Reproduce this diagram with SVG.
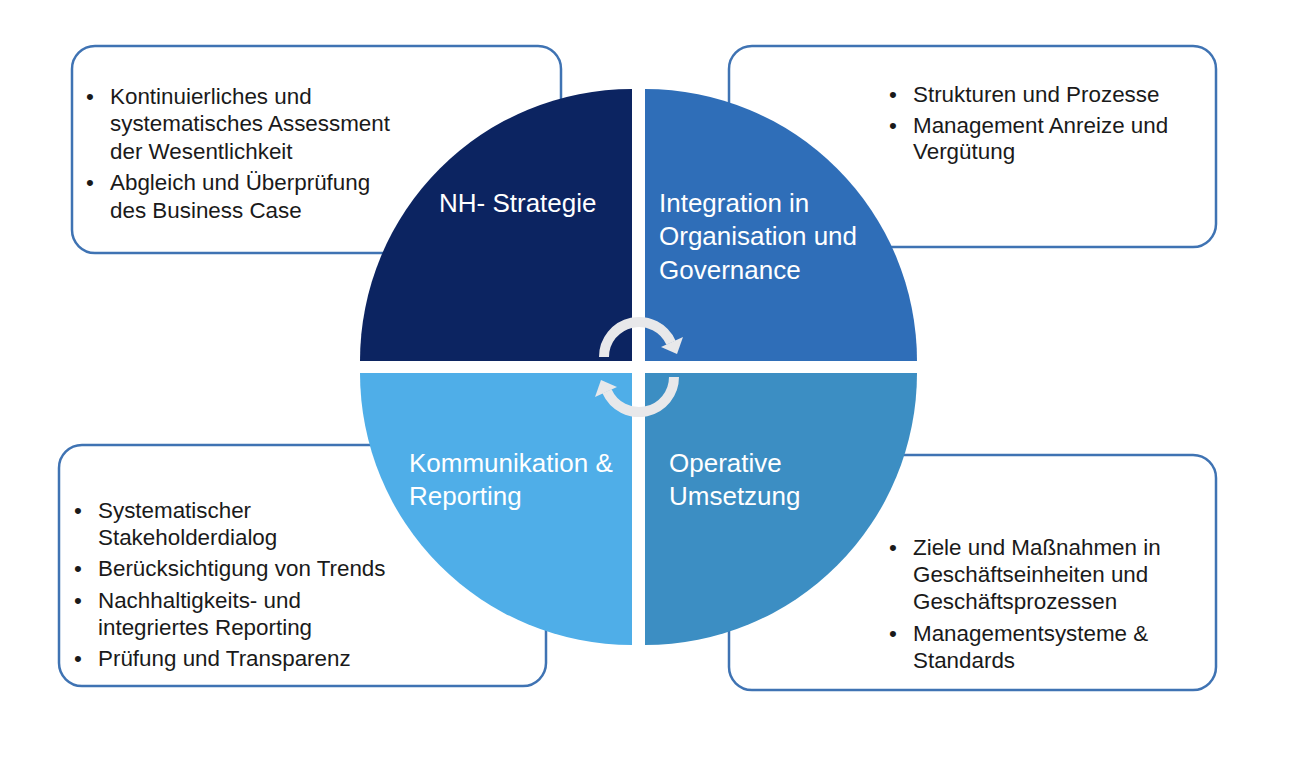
<svg xmlns="http://www.w3.org/2000/svg" width="1290" height="760" viewBox="0 0 1290 760">
  <style>
    .box { fill: #ffffff; stroke: #3f73b3; stroke-width: 2.5; }
    .bt { font-family: "Liberation Sans", Arial, sans-serif; font-size: 22.4px; fill: #1a1a1a; }
    .ql { font-family: "Liberation Sans", Arial, sans-serif; font-size: 26px; fill: #ffffff; }
    .cyc { fill: none; stroke: #e8e8ea; stroke-width: 10; }
    .cyh { fill: #e8e8ea; }
  </style>
  <rect x="0" y="0" width="1290" height="760" fill="#ffffff"/>

  <g id="box-tl">
    <rect class="box" x="72" y="46" width="489" height="207" rx="23"/>
    <text class="bt">
      <tspan x="86" y="104">•</tspan><tspan x="110" y="104">Kontinuierliches und</tspan>
      <tspan x="110" y="131">systematisches Assessment</tspan>
      <tspan x="110" y="159">der Wesentlichkeit</tspan>
      <tspan x="86" y="190">•</tspan><tspan x="110" y="190">Abgleich und Überprüfung</tspan>
      <tspan x="110" y="218">des Business Case</tspan>
    </text>
  </g>

  <g id="box-tr">
    <rect class="box" x="729" y="46" width="487" height="201" rx="23"/>
    <text class="bt">
      <tspan x="889" y="102">•</tspan><tspan x="913" y="102">Strukturen und Prozesse</tspan>
      <tspan x="889" y="133">•</tspan><tspan x="913" y="133">Management Anreize und</tspan>
      <tspan x="913" y="159">Vergütung</tspan>
    </text>
  </g>

  <g id="box-bl">
    <rect class="box" x="59" y="445" width="487" height="241" rx="23"/>
    <text class="bt">
      <tspan x="74" y="518">•</tspan><tspan x="98" y="518">Systematischer</tspan>
      <tspan x="98" y="545">Stakeholderdialog</tspan>
      <tspan x="74" y="576">•</tspan><tspan x="98" y="576">Berücksichtigung von Trends</tspan>
      <tspan x="74" y="608">•</tspan><tspan x="98" y="608">Nachhaltigkeits- und</tspan>
      <tspan x="98" y="635">integriertes Reporting</tspan>
      <tspan x="74" y="666">•</tspan><tspan x="98" y="666">Prüfung und Transparenz</tspan>
    </text>
  </g>

  <g id="box-br">
    <rect class="box" x="729" y="455" width="487" height="235" rx="23"/>
    <text class="bt">
      <tspan x="889" y="555">•</tspan><tspan x="913" y="555">Ziele und Maßnahmen in</tspan>
      <tspan x="913" y="582">Geschäftseinheiten und</tspan>
      <tspan x="913" y="609">Geschäftsprozessen</tspan>
      <tspan x="889" y="641">•</tspan><tspan x="913" y="641">Managementsysteme &amp;</tspan>
      <tspan x="913" y="668">Standards</tspan>
    </text>
  </g>

  <g id="q-strategie">
    <path d="M632,361 L360,361 A272,272 0 0 1 632,89 Z" fill="#0c2461"/>
    <text class="ql" x="439" y="212">NH- Strategie</text>
  </g>

  <g id="q-integration">
    <path d="M645,361 L645,89 A272,272 0 0 1 917,361 Z" fill="#2f6eb8"/>
    <text class="ql">
      <tspan x="659" y="212">Integration in</tspan>
      <tspan x="659" y="245">Organisation und</tspan>
      <tspan x="659" y="279">Governance</tspan>
    </text>
  </g>

  <g id="q-operativ">
    <path d="M645,373 L917,373 A272,272 0 0 1 645,645 Z" fill="#3c8ec3"/>
    <text class="ql">
      <tspan x="669" y="472">Operative</tspan>
      <tspan x="669" y="505">Umsetzung</tspan>
    </text>
  </g>

  <g id="q-kommunikation">
    <path d="M632,373 L632,645 A272,272 0 0 1 360,373 Z" fill="#4faee8"/>
    <text class="ql">
      <tspan x="409" y="472">Kommunikation &amp;</tspan>
      <tspan x="409" y="505">Reporting</tspan>
    </text>
  </g>

  <g id="connectors">
    <g id="cycle-top">
      <path class="cyc" d="M604,357 A35,35 0 0 1 671,342.8"/>
      <polygon class="cyh" points="683,337 661,347 677,354"/>
    </g>
    <g id="cycle-bottom" transform="rotate(180 639 367)">
      <path class="cyc" d="M604,357 A35,35 0 0 1 671,342.8"/>
      <polygon class="cyh" points="683,337 661,347 677,354"/>
    </g>
  </g>
</svg>
